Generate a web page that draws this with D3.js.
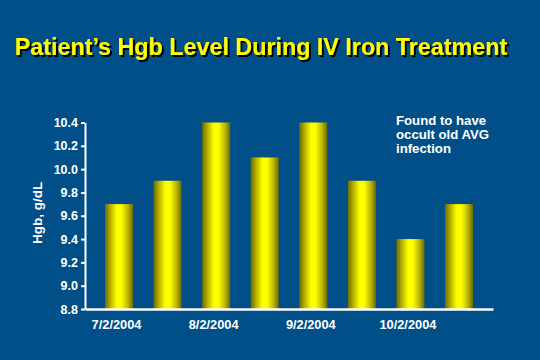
<!DOCTYPE html>
<html>
<head>
<meta charset="utf-8">
<script src="https://cdn.jsdelivr.net/npm/d3@7"></script>
<style>
html,body{margin:0;padding:0;background:#004f88;}
svg{display:block;}
</style>
</head>
<body>
<script>
const categories = ["7/2/2004","7/16/2004","8/2/2004","8/16/2004","9/2/2004","9/16/2004","10/2/2004","10/16/2004"];
const values = [9.7, 9.9, 10.4, 10.1, 10.4, 9.9, 9.4, 9.7];
const xTickLabels = ["7/2/2004","8/2/2004","9/2/2004","10/2/2004"];
const yTicks = [8.8, 9.0, 9.2, 9.4, 9.6, 9.8, 10.0, 10.2, 10.4];
const title = "Patient\u2019s Hgb Level During IV Iron Treatment";
const yLabel = "Hgb, g/dL";
const note = ["Found to have", "occult old AVG", "infection"];

const W = 540, H = 360;
const svg = d3.select("body").append("svg").attr("width", W).attr("height", H);
svg.append("rect").attr("width", W).attr("height", H).attr("fill", "#004f88");

const defs = svg.append("defs");
const grad = defs.append("linearGradient").attr("id", "cyl").attr("x1", "0%").attr("x2", "100%").attr("y1", "0%").attr("y2", "0%");
[[0, "#6e6a00"], [0.2, "#b8b400"], [0.42, "#ffff00"], [0.58, "#ffff00"], [0.8, "#c0bc00"], [1, "#6e6a00"]]
  .forEach(([o, c]) => grad.append("stop").attr("offset", o).attr("stop-color", c));
const shadow = defs.append("filter").attr("id", "shadow").attr("x", "-5%").attr("y", "-20%").attr("width", "110%").attr("height", "140%");
shadow.append("feDropShadow").attr("dx", 2).attr("dy", 2).attr("stdDeviation", 0).attr("flood-color", "#000").attr("flood-opacity", 1);

const x = d3.scalePoint().domain(categories).range([85, 493]).padding(0.7);
const y = d3.scaleLinear().domain([8.8, 10.4]).range([309, 122.5]);
const bw = 28;

svg.append("g").selectAll("rect").data(values).join("rect")
  .attr("x", (d, i) => x(categories[i]) - bw / 2)
  .attr("width", bw)
  .attr("y", d => y(d))
  .attr("height", d => y(8.8) - y(d))
  .attr("fill", "url(#cyl)");

const font = "'Liberation Sans', Arial, sans-serif";

// Y axis
const yAxis = svg.append("g").attr("transform", "translate(85,0)")
  .call(d3.axisLeft(y).tickValues(yTicks).tickFormat(d3.format(".1f")).tickSize(4).tickSizeOuter(0).tickPadding(3));
yAxis.select(".domain").attr("stroke", "#fff").attr("stroke-width", 2);
yAxis.selectAll(".tick line").attr("stroke", "#fff").attr("stroke-width", 2);
yAxis.selectAll(".tick text").attr("fill", "#fff").attr("font-family", font).attr("font-weight", "bold").attr("font-size", 12.5);

// X axis
const xAxis = svg.append("g").attr("transform", "translate(0,309)")
  .call(d3.axisBottom(x).tickValues(xTickLabels).tickSize(0).tickPadding(11));
xAxis.select(".domain").attr("stroke", "#fff").attr("stroke-width", 2.5);
xAxis.selectAll(".tick text").attr("fill", "#fff").attr("font-family", font).attr("font-weight", "bold").attr("font-size", 12.8).attr("dx", -3);

// Y label
svg.append("text")
  .attr("transform", "translate(42,213) rotate(-90)")
  .attr("text-anchor", "middle")
  .attr("fill", "#fff").attr("font-family", font).attr("font-weight", "bold").attr("font-size", 13.5)
  .text(yLabel);

// Title with shadow
svg.append("text").attr("x", 261).attr("y", 55).attr("text-anchor", "middle")
  .attr("filter", "url(#shadow)")
  .attr("fill", "#ffff00").attr("font-family", font).attr("font-weight", "bold").attr("font-size", 23.3).text(title);

// Annotation
svg.append("text").attr("x", 396).attr("y", 125)
  .attr("fill", "#fff").attr("font-family", font).attr("font-weight", "bold").attr("font-size", 13.2)
  .selectAll("tspan").data(note).join("tspan")
  .attr("x", 396).attr("dy", (d, i) => i === 0 ? 0 : 14).text(d => d);
</script>
</body>
</html>
